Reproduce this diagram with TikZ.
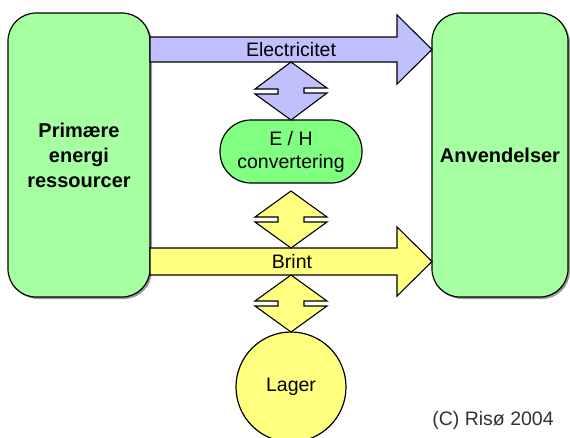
\documentclass[tikz,border=0pt]{standalone}
\usepackage{fontspec}
\setmainfont{Liberation Sans}
\usetikzlibrary{calc, shadows}
\definecolor{boxGreen}{RGB}{166, 255, 160}
\definecolor{convGreen}{RGB}{128, 255, 128}
\definecolor{elBlue}{RGB}{192, 192, 255}
\definecolor{hyYellow}{RGB}{255, 255, 128}
\definecolor{copyGray}{RGB}{50, 50, 50}

\begin{document}
\begin{tikzpicture}[
    x=1pt, y=-1pt,
    font=\fontsize{19.5}{23}\selectfont,
    bigbox/.style={
        draw=black,
        fill=boxGreen,
        rectangle,
        rounded corners=28pt,
        line width=1.2pt,
        outer sep=0pt,
        minimum width=142pt,
        minimum height=284pt,
        align=center,
        font=\fontsize{20}{25}\selectfont\bfseries,
        drop shadow={shadow xshift=2pt, shadow yshift=-2pt, fill=black!40, opacity=1}
    },
    convbox/.style={
        draw=black,
        fill=convGreen,
        rectangle,
        rounded corners=31pt,
        line width=1.2pt,
        outer sep=0pt,
        minimum width=142pt,
        minimum height=63pt,
        align=center
    },
    storebox/.style={
        draw=black,
        fill=hyYellow,
        circle,
        line width=1.2pt,
        outer sep=0pt,
        minimum size=110pt
    },
    elflow/.style={
        draw=black,
        fill=elBlue,
        line width=1.1pt,
        line join=miter
    },
    hyflow/.style={
        draw=black,
        fill=hyYellow,
        line width=1.1pt,
        line join=miter
    },
    flowlabel/.style={
        inner sep=0pt
    }
]
\useasboundingbox (0,0) rectangle (570,437);

% ================= MAIN BLOCKS =================
\node[bigbox] (prim) at (79,155) {Primære\\energi\\ressourcer};
\node[bigbox, minimum width=136pt] (anv) at (500,155) {Anvendelser};
\node[convbox] (eh) at (291,151.5) {E / H\\convertering};
\node[storebox] (lager) at (291,387) {Lager};

% ================= ELECTRICITY FLOW =================
\draw[elflow] (prim.east |- 0,37) -- (397,37) -- (397,15) -- (anv.west |- 0,49.5)
    -- (397,84) -- (397,62) -- (prim.east |- 0,62) -- cycle;
\node[flowlabel] (el) at (291,49.5) {Electricitet};

\draw[elflow] (eh.north |- 0,62) -- ++(36,26) -- ++(-23,0) -- ++(0,5) -- ++(23,0)
    -- (eh.north) -- ++(-36,-26) -- ++(23,0) -- ++(0,-5) -- ++(-23,0) -- cycle;

% ================= HYDROGEN FLOW =================
\draw[hyflow] (prim.east |- 0,248) -- (397,248) -- (397,227) -- (anv.west |- 0,261.5)
    -- (397,296) -- (397,275) -- (prim.east |- 0,275) -- cycle;
\node[flowlabel] (brint) at (292,261.5) {Brint};

\draw[hyflow] (eh.south |- 0,191) -- ++(36,26) -- ++(-23,0) -- ++(0,5) -- ++(23,0)
    -- (eh.south |- 0,248) -- ++(-36,-26) -- ++(23,0) -- ++(0,-5) -- ++(-23,0) -- cycle;

\draw[hyflow] (lager.north |- 0,275) -- ++(36,26) -- ++(-23,0) -- ++(0,5) -- ++(23,0)
    -- (lager.north) -- ++(-36,-26) -- ++(23,0) -- ++(0,-5) -- ++(-23,0) -- cycle;

% ================= CREDIT =================
\node[text=copyGray] (credit) at (493,420) {(C) Risø 2004};

\end{tikzpicture}
\end{document}
